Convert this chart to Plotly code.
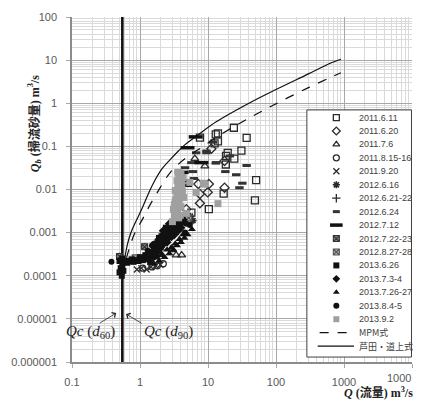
import plotly.graph_objects as go

# ---------------- data ----------------
series_names = ["2011.6.11", "2011.6.20", "2011.7.6", "2011.8.15-16", "2011.9.20",
                "2012.6.16", "2012.6.21-22", "2012.6.24", "2012.7.12", "2012.7.22-23",
                "2012.8.27-28", "2013.6.26", "2013.7.3-4", "2013.7.26-27", "2013.8.4-5",
                "2013.9.2"]

x_2011_6_11 = [7.6, 13, 14, 14, 24, 37, 31, 19.5, 24.4, 18.3, 51, 49, 12.5, 17, 10.3, 5.7, 18.4]
y_2011_6_11 = [0.16, 0.19, 0.2, 0.13, 0.27, 0.157, 0.08, 0.071, 0.052, 0.038, 0.0165, 0.0056,
               0.117, 0.008, 0.0035, 0.0029, 0.06]
x_2011_6_20 = [11.2, 17.5, 17.5, 10.3, 7.6, 7.6, 7.2, 4.8, 4.0, 9.9]
y_2011_6_20 = [0.088, 0.046, 0.011, 0.0134, 0.0079, 0.0048, 0.0134, 0.0035, 0.0022, 0.0086]
x_2011_7_6 = [6.4, 9.0, 3.4, 4.1, 3.0]
y_2011_7_6 = [0.052, 0.035, 0.0003, 0.0003, 0.0004]
x_2011_8_15 = [1.1, 1.5, 1.8, 2.2]
y_2011_8_15 = [0.00015, 0.00016, 0.00017, 0.00019]
x_2011_9_20 = [0.9, 1.05, 1.25, 1.45, 1.7, 2.0]
y_2011_9_20 = [0.00014, 0.00015, 0.00014, 0.00016, 0.00017, 0.00018]
x_2012_6_16 = [1.17, 0.5, 0.95, 1.1, 5.5, 6.0]
y_2012_6_16 = [0.00047, 0.00028, 0.00026, 0.00025, 0.0024, 0.0019]
x_2012_6_21 = [1.3, 1.6, 2.0, 2.6]
y_2012_6_21 = [0.00022, 0.0003, 0.0004, 0.0007]
x_2012_6_24 = [11.8, 6.7, 9.5, 13.2, 18, 26, 37, 32, 29, 6.0, 5.7, 4.6, 13, 6.2, 9.5, 21]
y_2012_6_24 = [0.125, 0.071, 0.078, 0.042, 0.026, 0.022, 0.036, 0.014, 0.011, 0.026, 0.042,
               0.032, 0.041, 0.018, 0.071, 0.06]
x_2012_7_12 = [6.6, 5.0, 8.0, 4.3, 4.1, 4.6]
y_2012_7_12 = [0.166, 0.093, 0.042, 0.016, 0.025, 0.0125]
x_2012_7_22 = [1.17, 0.5, 2.1, 2.6]
y_2012_7_22 = [0.00047, 0.00028, 0.0008, 0.0012]
x_2012_8_27 = [0.85, 1.4, 2.4, 5.2]
y_2012_8_27 = [0.00026, 0.00035, 0.0009, 0.0022]
x_2013_6_26 = [0.5, 0.52, 0.55, 0.5, 0.55, 0.6, 0.7, 0.8, 0.95, 1.1, 1.3, 1.5, 1.7, 2.0,
               2.4, 2.8, 3.2, 3.6, 0.54, 0.57, 0.65, 0.75, 0.85, 1.0, 1.2, 1.4, 1.6, 1.8,
               2.2, 2.6, 3.0, 1.9, 2.4, 3.4]
y_2013_6_26 = [0.00012, 0.00015, 0.00018, 0.00022, 0.00025, 0.00022, 0.00022, 0.00021,
               0.00022, 0.00023, 0.00025, 0.0003, 0.0004, 0.0006, 0.0009, 0.0013, 0.0018,
               0.0024, 0.0001, 0.00013, 0.0002, 0.00024, 0.00023, 0.00027, 0.0003, 0.00035,
               0.00045, 0.0005, 0.0007, 0.001, 0.0014, 0.00075, 0.0013, 0.0021]
x_2013_7_3 = [1.4, 1.6, 1.8, 2.0, 2.3, 2.6, 3.0, 3.3, 3.8, 4.3, 2.2, 2.7, 1.5, 1.7, 2.1,
              2.5, 2.9, 3.2, 3.6, 4.0, 2.4, 2.9]
y_2013_7_3 = [0.00022, 0.00028, 0.00035, 0.00045, 0.0006, 0.00075, 0.001, 0.0012, 0.0016,
              0.002, 0.0011, 0.0016, 0.00032, 0.0003, 0.0005, 0.0006, 0.0008, 0.0009, 0.0011,
              0.0013, 0.0009, 0.0012]
x_2013_7_26 = [1.6, 1.9, 2.3, 2.7, 3.1, 3.5, 4.0, 4.5, 5.0, 5.8, 1.8, 2.1, 2.5, 2.9, 3.3,
               3.8, 4.3, 2.0]
y_2013_7_26 = [0.00019, 0.00022, 0.00027, 0.00033, 0.0004, 0.0005, 0.0006, 0.00075, 0.0009,
               0.0012, 0.00026, 0.0003, 0.0004, 0.00045, 0.00055, 0.0007, 0.0009, 0.00035]
x_2013_8_4 = [0.38, 1.2, 1.5, 1.8, 2.1, 2.5, 2.9, 3.4, 3.9, 4.6, 5.4, 4.8, 1.3, 1.6, 2.0,
              2.3, 2.7, 3.1, 3.6, 4.2]
y_2013_8_4 = [0.00021, 0.0003, 0.0005, 0.00065, 0.00085, 0.0011, 0.0014, 0.0018, 0.0013,
              0.001, 0.0015, 0.0016, 0.00038, 0.00055, 0.0006, 0.00095, 0.0009, 0.0011,
              0.0014, 0.0017]
x_2013_9_2 = [3.2, 3.4, 3.6, 3.3, 3.5, 3.7, 3.4, 3.6, 3.8, 3.5, 3.7, 3.9, 3.6, 3.8, 4.0,
              3.7, 3.9, 4.1, 3.8, 4.0, 3.7, 8.5, 14, 6.7, 4.8, 3.0, 3.9, 5.4, 9.0, 3.1,
              3.3, 3.5, 3.9, 4.2, 3.3, 4.1, 3.5, 4.3, 3.6, 4.0, 3.2, 4.4]
y_2013_9_2 = [0.0025, 0.003, 0.0035, 0.004, 0.0046, 0.0053, 0.006, 0.007, 0.008, 0.009,
              0.0105, 0.012, 0.0135, 0.015, 0.017, 0.019, 0.021, 0.0115, 0.006, 0.004,
              0.0022, 0.014, 0.0047, 0.0086, 0.0028, 0.0018, 0.0025, 0.0146, 0.0133, 0.0035,
              0.0055, 0.0065, 0.0075, 0.009, 0.0095, 0.013, 0.016, 0.019, 0.025, 0.024,
              0.0045, 0.0065]

series_x = [x_2011_6_11, x_2011_6_20, x_2011_7_6, x_2011_8_15, x_2011_9_20, x_2012_6_16,
            x_2012_6_21, x_2012_6_24, x_2012_7_12, x_2012_7_22, x_2012_8_27, x_2013_6_26,
            x_2013_7_3, x_2013_7_26, x_2013_8_4, x_2013_9_2]
series_y = [y_2011_6_11, y_2011_6_20, y_2011_7_6, y_2011_8_15, y_2011_9_20, y_2012_6_16,
            y_2012_6_21, y_2012_6_24, y_2012_7_12, y_2012_7_22, y_2012_8_27, y_2013_6_26,
            y_2013_7_3, y_2013_7_26, y_2013_8_4, y_2013_9_2]

# formula curves
mpm_x = [0.57, 0.6, 0.65, 0.73, 0.82, 0.92, 1.08, 1.27, 1.8, 2.8, 4.8, 8.5, 13, 40, 110, 300, 640, 900]
mpm_y = [0.0001, 0.00018, 0.0003, 0.00055, 0.0009, 0.0013, 0.002, 0.0033, 0.0086, 0.025,
         0.055, 0.1, 0.16, 0.45, 1.05, 2.3, 4.0, 5.1]
am_x = [0.57, 0.59, 0.62, 0.69, 0.77, 0.91, 1.1, 1.27, 1.6, 2.1, 2.8, 3.67, 4.6, 7, 13.2,
        40, 98, 300, 640, 900]
am_y = [0.0001, 0.0002, 0.00036, 0.00074, 0.0012, 0.0021, 0.004, 0.0068, 0.0147, 0.03, 0.05,
        0.078, 0.11, 0.18, 0.37, 1.0, 2.05, 4.8, 8.6, 10.5]
line_names = ["MPM式", "芦田・道上式"]

qc_value = 0.55  # critical discharge (vertical line)

x_tick_vals = [0.1, 1, 10, 100, 1000, 10000]
x_tick_text = ["0.1", "1", "10", "100", "1000", ""]
y_tick_vals = [1e-6, 1e-5, 1e-4, 1e-3, 1e-2, 0.1, 1, 10, 100]
y_tick_text = ["0.000001", "0.00001", "0.0001", "0.001", "0.01", "0.1", "1", "10", "100"]

# ---------------- styles ----------------
DK = "#2b2b2b"
styles = [
    dict(symbol="square-open", size=7, color=DK, lw=1.3),
    dict(symbol="diamond-open", size=7, color=DK, lw=1.3),
    dict(symbol="triangle-up-open", size=7, color=DK, lw=1.3),
    dict(symbol="circle-open", size=6, color=DK, lw=1.3),
    dict(symbol="x-thin-open", size=6, color=DK, lw=1.3),
    dict(symbol="asterisk-open", size=6, color=DK, lw=1.6),
    dict(symbol="cross-thin-open", size=6, color=DK, lw=1.3),
    dict(symbol="line-ew-open", size=6, color="#333333", lw=3),
    dict(symbol="line-ew-open", size=10, color="#111111", lw=3.5),
    dict(symbol="square-x", size=6, color="#808080", lw=1.1, lc="#333333"),
    dict(symbol="square-x", size=6, color="#b0b0b0", lw=1.1, lc="#555555"),
    dict(symbol="square", size=6, color="#111111", lw=0),
    dict(symbol="diamond", size=7, color="#111111", lw=0),
    dict(symbol="triangle-up", size=7, color="#111111", lw=0),
    dict(symbol="circle", size=6, color="#111111", lw=0),
    dict(symbol="square", size=7, color="#a0a0a0", lw=0),
]

fig = go.Figure()

# vertical critical-discharge line
fig.add_trace(go.Scatter(x=[qc_value, qc_value], y=[1e-6, 100], mode="lines",
                         line=dict(color="#111111", width=2.6), showlegend=False,
                         hoverinfo="skip"))

for name, xs, ys, st in zip(series_names, series_x, series_y, styles):
    marker = dict(symbol=st["symbol"], size=st["size"], color=st["color"],
                  line=dict(color=st.get("lc", st["color"]), width=st["lw"]))
    fig.add_trace(go.Scatter(x=xs, y=ys, mode="markers", name=name, marker=marker,
                             showlegend=False))

fig.add_trace(go.Scatter(x=mpm_x, y=mpm_y, mode="lines", name=line_names[0],
                         line=dict(color="#111111", width=1.2, dash="dash"),
                         showlegend=False, line_shape="spline"))
fig.add_trace(go.Scatter(x=am_x, y=am_y, mode="lines", name=line_names[1],
                         line=dict(color="#111111", width=1.2),
                         showlegend=False, line_shape="spline"))

# ---------------- hand-drawn legend on a pixel-unit overlay axis ----------------
L, R, T, B = 66, 412, 13, 362
leg_top, leg_step = 114.7, 13.6
mx, tx = 335, 356
fig.add_shape(type="rect", xref="x2", yref="y2", x0=305, x1=411.5, y0=107, y1=357,
              fillcolor="white", line=dict(color="#404040", width=1), layer="below")
for i, (name, st) in enumerate(zip(series_names, styles)):
    yy = leg_top + leg_step * i
    sz = max(st["size"] - 1, 6)
    if st["symbol"] == "line-ew-open":
        sz = 5 if st["size"] < 9 else 9
    marker = dict(symbol=st["symbol"], size=sz, color=st["color"],
                  line=dict(color=st.get("lc", st["color"]), width=st["lw"]))
    fig.add_trace(go.Scatter(x=[mx], y=[yy], mode="markers", marker=marker,
                             xaxis="x2", yaxis="y2", showlegend=False, hoverinfo="skip"))
    fig.add_annotation(x=tx, y=yy, xref="x2", yref="y2", text=name, showarrow=False,
                       xanchor="left", yanchor="middle",
                       font=dict(family="Liberation Sans, Noto Sans CJK JP", size=9,
                                 color="#404040"))
for j, (name, dash) in enumerate(zip(line_names, ["dash", "solid"])):
    yy = leg_top + leg_step * (16 + j)
    x0, x1 = (318, 348) if dash == "dash" else (316, 353)
    fig.add_trace(go.Scatter(x=[x0, x1], y=[yy, yy], mode="lines",
                             line=dict(color="#111111", width=1.2, dash=dash),
                             xaxis="x2", yaxis="y2", showlegend=False, hoverinfo="skip"))
    fig.add_annotation(x=tx, y=yy, xref="x2", yref="y2", text=name, showarrow=False,
                       xanchor="left", yanchor="middle",
                       font=dict(family="Noto Sans CJK JP", size=9, color="#404040"))

# Qc annotations with arrows
serif = "Liberation Serif, Noto Sans CJK JP"
fig.add_annotation(x=85, y=332, xref="x2", yref="y2",
                   text="<i>Qc</i> (<i>d</i><sub>60</sub>)", showarrow=False,
                   font=dict(family=serif, size=15, color="#222222"))
fig.add_annotation(x=164, y=332, xref="x2", yref="y2",
                   text="<i>Qc</i> (<i>d</i><sub>90</sub>)", showarrow=False,
                   font=dict(family=serif, size=15, color="#222222"))
fig.add_annotation(x=111, y=312.5, xref="x2", yref="y2", text="", showarrow=True,
                   ax=-18, ay=11, arrowhead=4, arrowsize=1.4, arrowwidth=0.8,
                   arrowcolor="#222222")
fig.add_annotation(x=121, y=313.5, xref="x2", yref="y2", text="", showarrow=True,
                   ax=17, ay=10, arrowhead=4, arrowsize=1.4, arrowwidth=0.8,
                   arrowcolor="#222222")

# axis titles
fig.add_annotation(x=(18 - L) / (R - L), y=(B - 70) / (B - T), xref="paper", yref="paper",
                   text="<b><i>Q<sub>b</sub></i> (掃流砂量) m<sup>3</sup>/s</b>",
                   textangle=-90, showarrow=False,
                   font=dict(family=serif, size=12, color="#222222"))
fig.add_annotation(x=(415 - L) / (R - L), y=(B - 393) / (B - T), xref="paper", yref="paper",
                   text="<b><i>Q</i> (流量) m<sup>3</sup>/s</b>", showarrow=False,
                   xanchor="right", yanchor="middle",
                   font=dict(family=serif, size=12, color="#222222"))
fig.add_annotation(x=(413 - L) / (R - L), y=(B - 378) / (B - T), xref="paper", yref="paper",
                   text="1000", showarrow=False, xanchor="right", yanchor="middle",
                   font=dict(family="Liberation Sans", size=11, color="#595959"))

tickfont = dict(family="Liberation Sans", size=11, color="#595959")
fig.update_layout(
    width=423, height=403,
    margin=dict(l=L, r=423 - R, t=T, b=403 - B),
    paper_bgcolor="white", plot_bgcolor="rgba(0,0,0,0)",
    showlegend=False,
    xaxis=dict(type="log", range=[-1, 4], tickvals=x_tick_vals, ticktext=x_tick_text,
               showgrid=True, gridcolor="#a8a8a8", gridwidth=1,
               minor=dict(dtick="D1", showgrid=True, gridcolor="#dadada", gridwidth=1, ticks=""),
               showline=True, linecolor="#8c8c8c", linewidth=1.5,
               ticks="outside", ticklen=4, tickcolor="#a8a8a8", tickfont=tickfont,
               ticklabelstandoff=5, zeroline=False, fixedrange=True),
    yaxis=dict(type="log", range=[-6, 2], tickvals=y_tick_vals, ticktext=y_tick_text,
               showgrid=True, gridcolor="#a8a8a8", gridwidth=1,
               minor=dict(dtick="D1", showgrid=True, gridcolor="#dadada", gridwidth=1, ticks=""),
               showline=True, linecolor="#8c8c8c", linewidth=1.5,
               ticks="outside", ticklen=4, tickcolor="#a8a8a8", tickfont=tickfont,
               ticklabelstandoff=7, zeroline=False, fixedrange=True),
    xaxis2=dict(domain=[0, 1], range=[L, R], anchor="y2", visible=False, fixedrange=True),
    yaxis2=dict(domain=[0, 1], range=[B, T], anchor="x2", visible=False, fixedrange=True),
)

fig.write_html("out.html", config={"displayModeBar": False},
               post_script="document.body.style.margin='0';document.body.style.overflow='hidden';")
